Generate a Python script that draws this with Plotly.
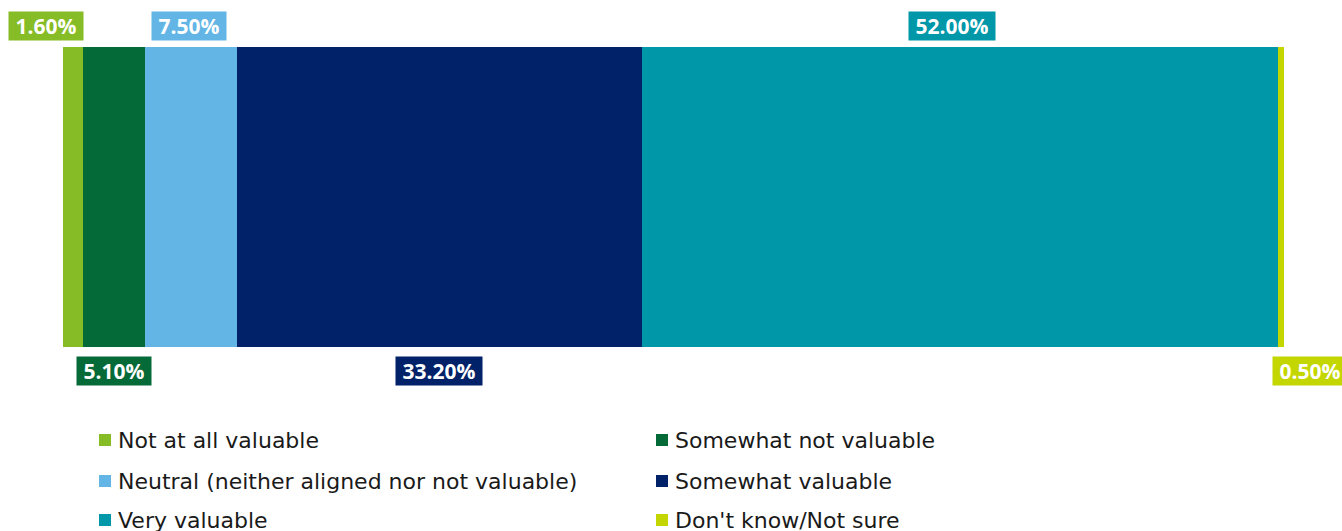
import plotly.graph_objects as go

# Survey responses: share of respondents per answer (single stacked bar)
categories = [
    "Not at all valuable",
    "Somewhat not valuable",
    "Neutral (neither aligned nor not valuable)",
    "Somewhat valuable",
    "Very valuable",
    "Don't know/Not sure",
]
values = [1.6, 5.1, 7.5, 33.2, 52.0, 0.5]
colors = ["#86BC25", "#046A38", "#62B5E5", "#012169", "#0097A9", "#C4D600"]

W, H = 1342, 531
M_L, M_R, M_T, M_B = 63, 57, 47, 184
PW, PH = W - M_L - M_R, H - M_T - M_B


def px_x(p):
    return (p - M_L) / PW


def px_y(p):
    return (H - M_B - p) / PH


fig = go.Figure()
for name, v, c in zip(categories, values, colors):
    fig.add_trace(go.Bar(
        x=[v], y=["All"], orientation="h", name=name,
        marker=dict(color=c, line=dict(width=0)),
        width=1, showlegend=False, hoverinfo="name+x",
    ))

# Value labels alternate above / below the bar
shifts = [-27, 0, -2, 0, -8, 29]
cum = 0.0
for i, (v, c) in enumerate(zip(values, colors)):
    center = cum + v / 2
    cum += v
    above = i % 2 == 0
    fig.add_annotation(
        x=center, xref="x",
        y=1 if above else 0, yref="paper",
        yanchor="bottom" if above else "top",
        yshift=6 if above else -9,
        xshift=shifts[i],
        text=f"\u00a0<b>{v:.2f}%</b>\u00a0", showarrow=False,
        font=dict(family="Open Sans", size=21, color="white"),
        bgcolor=c, borderpad=1, height=26,
    )

# Two-column legend below the chart
legend_cols = [99, 656]
legend_rows = [440, 481, 520]
for i, (name, c) in enumerate(zip(categories, colors)):
    lx = legend_cols[i % 2]
    ly = legend_rows[i // 2]
    fig.add_shape(
        type="rect", xref="paper", yref="paper",
        x0=px_x(lx), x1=px_x(lx + 12), y0=px_y(ly + 6), y1=px_y(ly - 6),
        fillcolor=c, line=dict(width=0),
    )
    fig.add_annotation(
        x=px_x(lx + 17), y=px_y(ly), xref="paper", yref="paper",
        xanchor="left", yanchor="middle", text=name, showarrow=False,
        font=dict(family="DejaVu Sans", size=22, color="#1a1a1a"),
    )

fig.update_layout(
    width=W, height=H, barmode="stack",
    margin=dict(l=M_L, r=M_R, t=M_T, b=M_B),
    plot_bgcolor="white", paper_bgcolor="white",
    xaxis=dict(range=[0, 100], visible=False, fixedrange=True),
    yaxis=dict(range=[-0.5, 0.5], visible=False, fixedrange=True),
    bargap=0,
)

fig.write_html("out.html")
